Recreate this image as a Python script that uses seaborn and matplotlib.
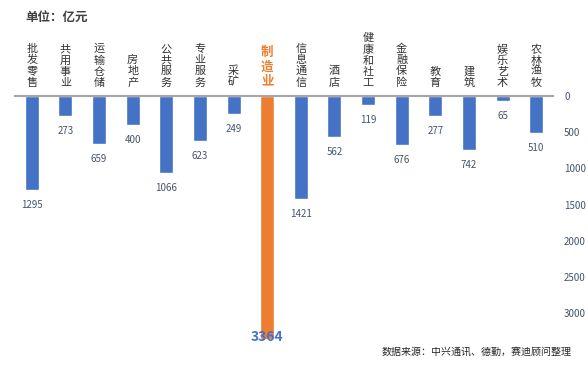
import matplotlib
matplotlib.use('Agg')
import matplotlib.pyplot as plt
import seaborn as sns

# data (unit: 亿元)
industries = ['批发零售', '共用事业', '运输仓储', '房地产', '公共服务', '专业服务', '采矿', '制造业',
              '信息通信', '酒店', '健康和社工', '金融保险', '教育', '建筑', '娱乐艺术', '农林渔牧']
values = [1295, 273, 659, 400, 1066, 623, 249, 3364, 1421, 562, 119, 676, 277, 742, 65, 510]
yticks = [0, 500, 1000, 1500, 2000, 2500, 3000]
highlight = '制造业'

blue = '#4472C4'
orange = '#ED7D31'
tick_col = '#44546A'

sns.set_style('white')
plt.rcParams['font.family'] = ['Noto Sans CJK SC', 'DejaVu Sans']

fig = plt.figure(figsize=(5.88, 3.68), dpi=100)
ax = fig.add_axes([15 / 588, 1 - 342 / 368, (553 - 15) / 588, (342 - 96) / 368])

palette = {c: (orange if c == highlight else blue) for c in industries}
sns.barplot(x=industries, y=values, hue=industries, palette=palette, legend=False,
            width=0.42, saturation=1, ax=ax)

ax.set_ylim(3400, 0)
ax.set_xlim(-0.5, len(industries) - 0.5)

# value labels under each bar
for i, (c, v) in enumerate(zip(industries, values)):
    if c == highlight:
        ax.annotate(str(v), (i, v), xytext=(0, 2), textcoords='offset points',
                    ha='center', va='center', fontsize=10, fontweight='bold', color=blue)
    else:
        ax.annotate(str(v), (i, v), xytext=(0, -11), textcoords='offset points',
                    ha='center', va='center', fontsize=7, color=tick_col)

# category labels stacked vertically above the axis line
ax.xaxis.tick_top()
ax.set_xticks(range(len(industries)))
ax.set_xticklabels(['\n'.join(c) for c in industries], fontsize=8, color='#333333',
                   linespacing=1.12)
for lbl, c in zip(ax.get_xticklabels(), industries):
    if c == highlight:
        lbl.set_color(orange)
        lbl.set_fontweight('bold')
        lbl.set_fontsize(9)
ax.tick_params(axis='x', length=0, pad=6)

ax.yaxis.tick_right()
ax.set_yticks(yticks)
ax.set_yticklabels([str(t) for t in yticks], fontsize=7, color=tick_col)
ax.tick_params(axis='y', length=0, pad=8)

for s in ['left', 'right', 'bottom']:
    ax.spines[s].set_visible(False)
ax.spines['top'].set_color('#A6A6A6')
ax.spines['top'].set_linewidth(1.5)

fig.text(25 / 588, 1 - 17 / 368, '单位：亿元', fontsize=9, color='#404040',
         fontweight='bold', va='center', ha='left')
fig.text(572 / 588, 1 - 352 / 368, '数据来源：中兴通讯、德勤，赛迪顾问整理', fontsize=7.2,
         color='#262626', va='center', ha='right')

fig.savefig('out.png', dpi=100)
